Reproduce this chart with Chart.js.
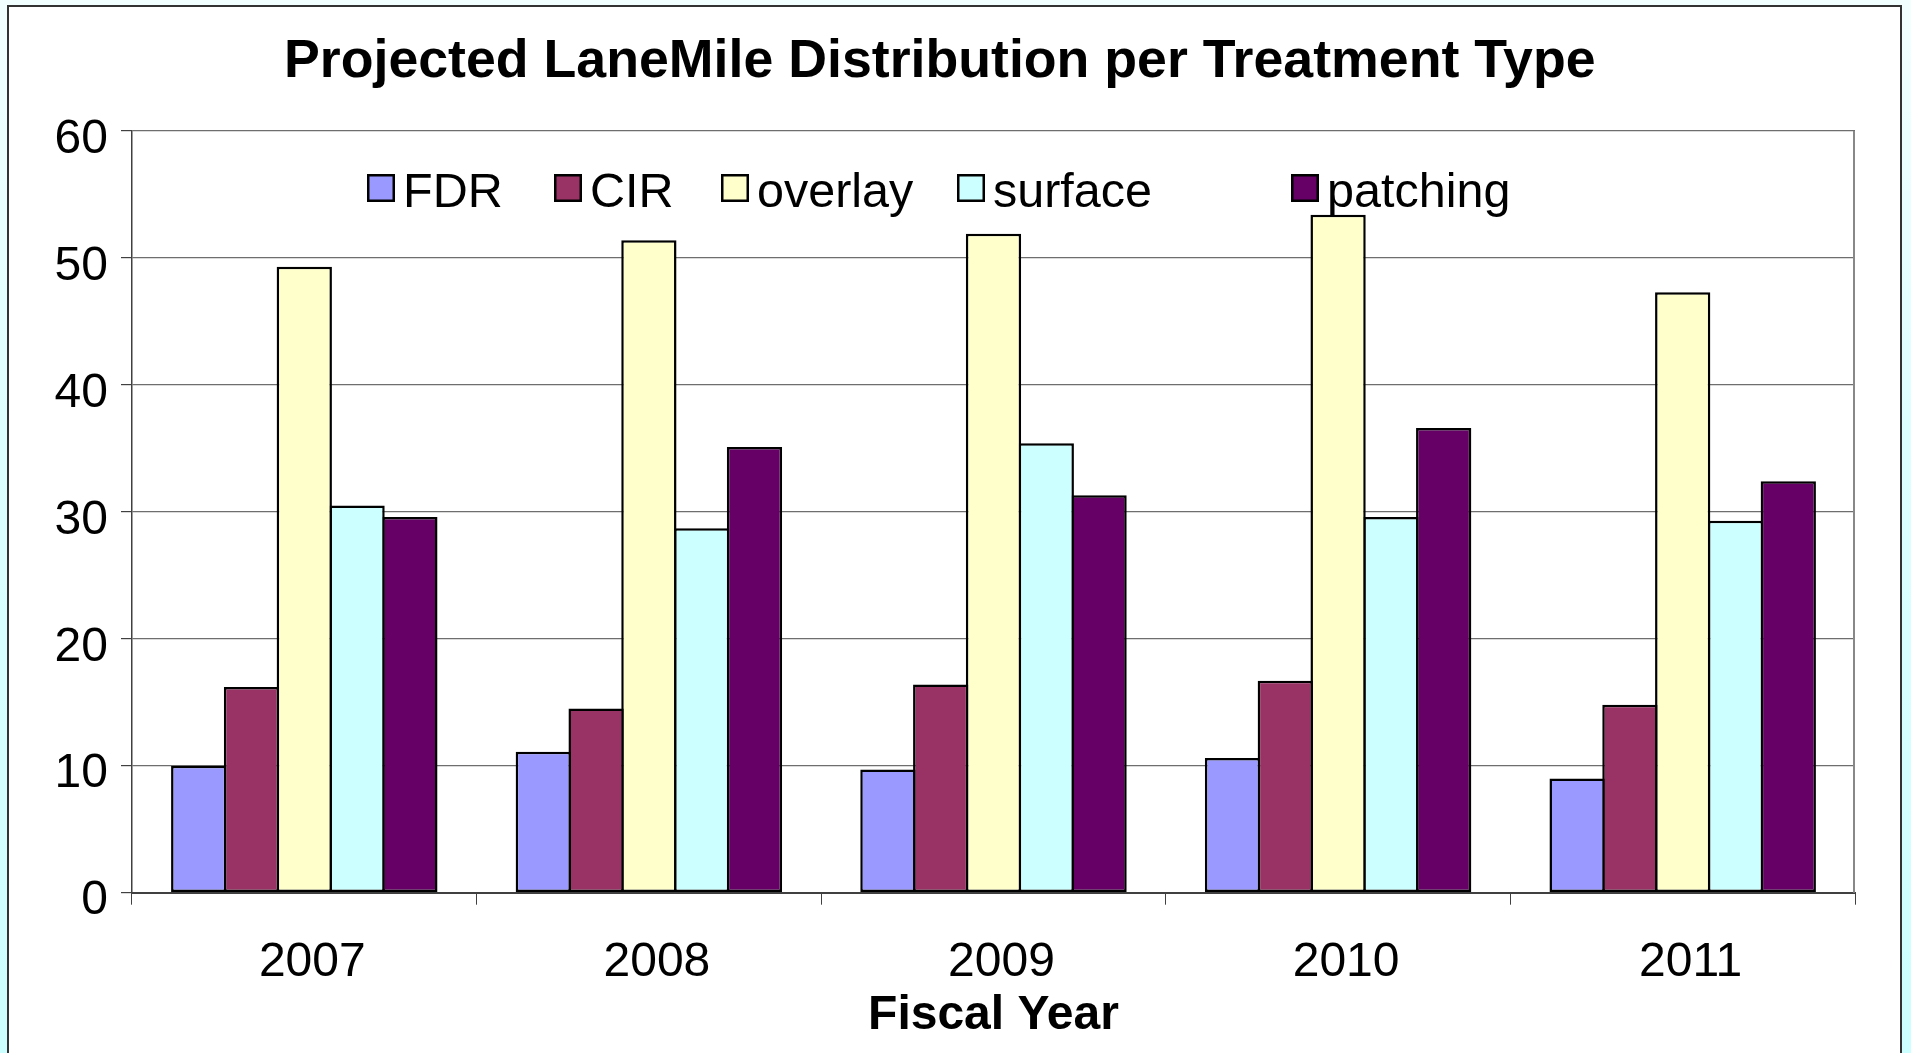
<!DOCTYPE html>
<html>
<head>
<meta charset="utf-8">
<title>Projected LaneMile Distribution per Treatment Type</title>
<script src="https://cdn.jsdelivr.net/npm/chart.js@4/dist/chart.umd.min.js"></script>
<style>
  html, body { margin: 0; padding: 0; overflow: hidden; }
  body {
    width: 1911px; height: 1053px; position: relative;
    background: linear-gradient(to bottom, #f2ffff 0%, #dcffff 45%, #ccffff 100%);
  }
  #frame {
    position: absolute; left: 7px; top: 5px; width: 1891px; height: 1060px;
    background: #ffffff; border: 2px solid #333333;
  }
  #chart { position: absolute; left: 0; top: 0; }
</style>
</head>
<body>
<div id="frame"></div>
<canvas id="chart" width="1911" height="1053"></canvas>
<script>
// Fiscal years on the category axis
const years = ['2007', '2008', '2009', '2010', '2011'];

// Lane miles per treatment type, one value per fiscal year
const fdr      = [10.0, 11.1,  9.7, 10.6,  9.0];
const cir      = [16.2, 14.5, 16.4, 16.7, 14.8];
const overlay  = [49.3, 51.4, 51.9, 53.4, 47.3];
const surface  = [30.5, 28.7, 35.4, 29.6, 29.3];
const patching = [29.6, 35.1, 31.3, 36.6, 32.4];

const seriesNames = ['FDR', 'CIR', 'overlay', 'surface', 'patching'];
const yTicks = [0, 10, 20, 30, 40, 50, 60];

const FONT = "'Liberation Sans', Arial, Helvetica, sans-serif";
const fills = ['#9999ff', '#993366', '#ffffcc', '#ccffff', '#660066'];
const seriesValues = [fdr, cir, overlay, surface, patching];

// One-row legend drawn over the top of the plot
const rowLegend = {
  id: 'rowLegend',
  afterDraw(chart, args, opts) {
    const ctx = chart.ctx;
    ctx.save();
    ctx.font = opts.fontSize + 'px ' + FONT;
    ctx.textBaseline = 'alphabetic';
    ctx.textAlign = 'left';
    chart.data.datasets.forEach((ds, i) => {
      const x = opts.slots[i];
      ctx.fillStyle = ds.backgroundColor;
      ctx.fillRect(x, opts.boxTop, opts.box, opts.box);
      ctx.lineWidth = 2.5;
      ctx.strokeStyle = '#000000';
      ctx.strokeRect(x + 1.25, opts.boxTop + 1.25, opts.box - 2.5, opts.box - 2.5);
      ctx.fillStyle = '#000000';
      ctx.fillText(ds.label, x + opts.box + opts.gap, opts.baseline);
    });
    ctx.restore();
  }
};

// Grey right-hand edge of the plot area
const plotEdge = {
  id: 'plotEdge',
  beforeDatasetsDraw(chart) {
    const { ctx, chartArea } = chart;
    ctx.save();
    ctx.strokeStyle = '#888888';
    ctx.lineWidth = 2;
    ctx.beginPath();
    ctx.moveTo(chartArea.right - 1, chartArea.top);
    ctx.lineTo(chartArea.right - 1, chartArea.bottom);
    ctx.stroke();
    ctx.restore();
  }
};

new Chart(document.getElementById('chart'), {
  type: 'bar',
  data: {
    labels: years,
    datasets: seriesNames.map((name, i) => ({
      label: name,
      data: seriesValues[i],
      backgroundColor: fills[i],
      borderColor: '#000000',
      borderWidth: 2.5,
      borderSkipped: false,
      categoryPercentage: 0.766,
      barPercentage: 1.047
    }))
  },
  options: {
    responsive: false,
    devicePixelRatio: 1,
    animation: false,
    events: [],
    layout: { padding: { left: 24.6, right: 56, top: 0, bottom: 8.7 } },
    plugins: {
      legend: { display: false },
      tooltip: { enabled: false },
      title: {
        display: true,
        text: 'Projected LaneMile Distribution per Treatment Type',
        color: '#000000',
        font: { family: FONT, size: 53.7, weight: 'bold' },
        padding: { top: 30, bottom: 36.5 }
      },
      rowLegend: {
        slots: [367, 554, 721, 957, 1291],
        box: 28,
        boxTop: 174,
        gap: 8,
        baseline: 207,
        fontSize: 48.5
      }
    },
    scales: {
      x: {
        grid: {
          offset: true,
          drawOnChartArea: false,
          drawTicks: true,
          tickLength: 12,
          tickColor: '#404040',
          tickWidth: 1
        },
        border: { color: '#404040', width: 2 },
        ticks: {
          color: '#000000',
          font: { family: FONT, size: 48 },
          padding: 29,
          labelOffset: 8,
          maxRotation: 0
        },
        title: {
          display: true,
          text: 'Fiscal Year',
          color: '#000000',
          font: { family: FONT, size: 48, weight: 'bold' },
          padding: { top: -33.6, bottom: 0 }
        }
      },
      y: {
        min: yTicks[0],
        max: yTicks[yTicks.length - 1],
        afterBuildTicks(axis) { axis.ticks = yTicks.map(v => ({ value: v })); },
        grid: {
          color: '#6e6e6e',
          lineWidth: 1.2,
          tickLength: 11,
          tickColor: '#404040'
        },
        border: { color: '#404040', width: 1.5 },
        ticks: {
          color: '#000000',
          font: { family: FONT, size: 48 },
          padding: 13,
          labelOffset: 8.5
        },
        // blank spacer title: keeps the plot where it is while widening the left gutter
        title: {
          display: true,
          text: '',
          font: { family: FONT, size: 1, lineHeight: 1 },
          padding: { top: 16, bottom: 0 }
        }
      }
    }
  },
  plugins: [rowLegend, plotEdge]
});
</script>
</body>
</html>
